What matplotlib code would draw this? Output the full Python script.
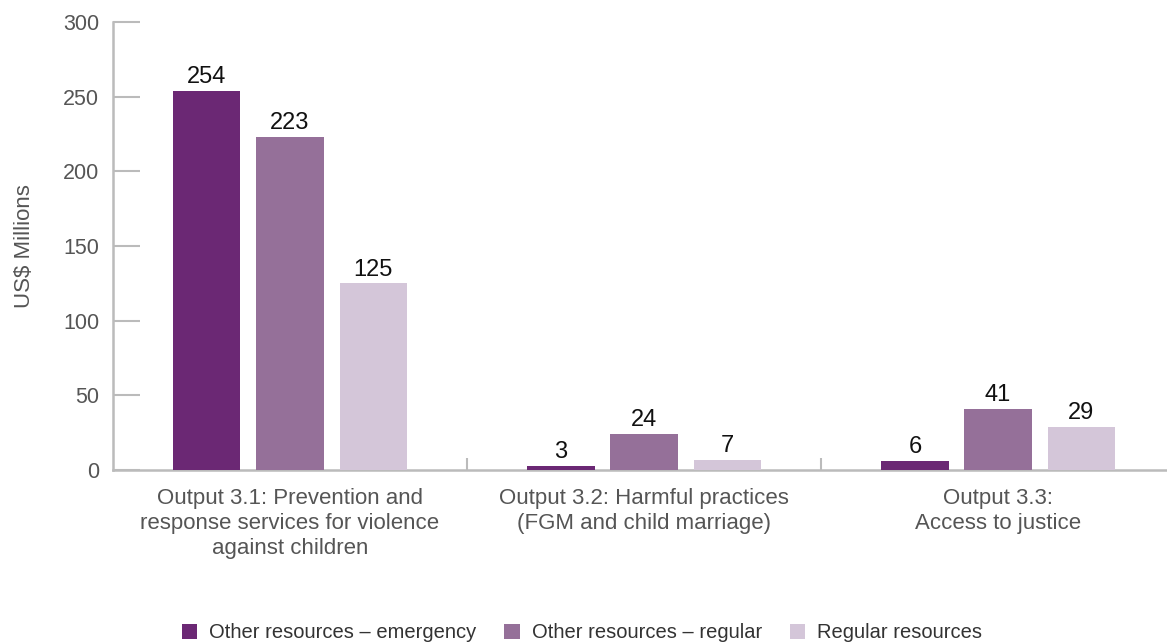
import matplotlib
matplotlib.use("Agg")
import matplotlib.pyplot as plt
import numpy as np

categories = ["Output 3.1: Prevention and\nresponse services for violence\nagainst children",
              "Output 3.2: Harmful practices\n(FGM and child marriage)",
              "Output 3.3:\nAccess to justice"]
series_names = ["Other resources \u2013 emergency", "Other resources \u2013 regular", "Regular resources"]
emergency = [254, 3, 6]
other_regular = [223, 24, 41]
regular = [125, 7, 29]
yticks = [0, 50, 100, 150, 200, 250, 300]

colors = ["#6B2874", "#957099", "#D4C6D9"]
plt.rcParams['font.family'] = ['Liberation Sans', 'DejaVu Sans']

fig = plt.figure(figsize=(11.67, 6.44), dpi=100)
ax = fig.add_axes([113/1167, 1-470/644, 1-113/1167, (470-22)/644])

x = np.arange(len(categories))
w = 0.19
step = 0.235
for i, (vals, name) in enumerate(zip([emergency, other_regular, regular], series_names)):
    bars = ax.bar(x + (i-1)*step, vals, width=w, color=colors[i], label=name, zorder=3)
    for b, v in zip(bars, vals):
        ax.annotate(str(v), (b.get_x()+b.get_width()/2, v), xytext=(0, 2),
                    textcoords='offset points', ha='center', va='bottom',
                    fontsize=17, color='#111111')

ax.set_xlim(-0.5, 2.477)
ax.set_ylim(0, 300)
ax.set_yticks(yticks)
ax.tick_params(axis='y', direction='in', length=19.5, width=1.5, color='#BBBBBB',
               labelsize=15.5, labelcolor='#555555', pad=10)
ax.set_xticks([0.5, 1.5])
ax.set_xticklabels([])
ax.tick_params(axis='x', direction='in', length=9, width=1.5, color='#BBBBBB')
for i, c in enumerate(categories):
    ax.text(x[i], -12, c, ha='center', va='top', fontsize=16, color='#555555',
            linespacing=1.25, transform=ax.transData)
for s in ['top', 'right']:
    ax.spines[s].set_visible(False)
for s in ['left', 'bottom']:
    ax.spines[s].set_color('#BBBBBB')
    ax.spines[s].set_linewidth(1.8)
ax.set_ylabel("US$ Millions", fontsize=16, color='#555555', labelpad=20)

fig.legend(loc='center', bbox_to_anchor=(582/1167, 1-633/644), ncol=3, frameon=False,
           fontsize=14.5, handlelength=0.75, handleheight=0.75, handletextpad=0.6,
           columnspacing=1.4, labelcolor='#333333')

fig.savefig("out.png", dpi=100)
